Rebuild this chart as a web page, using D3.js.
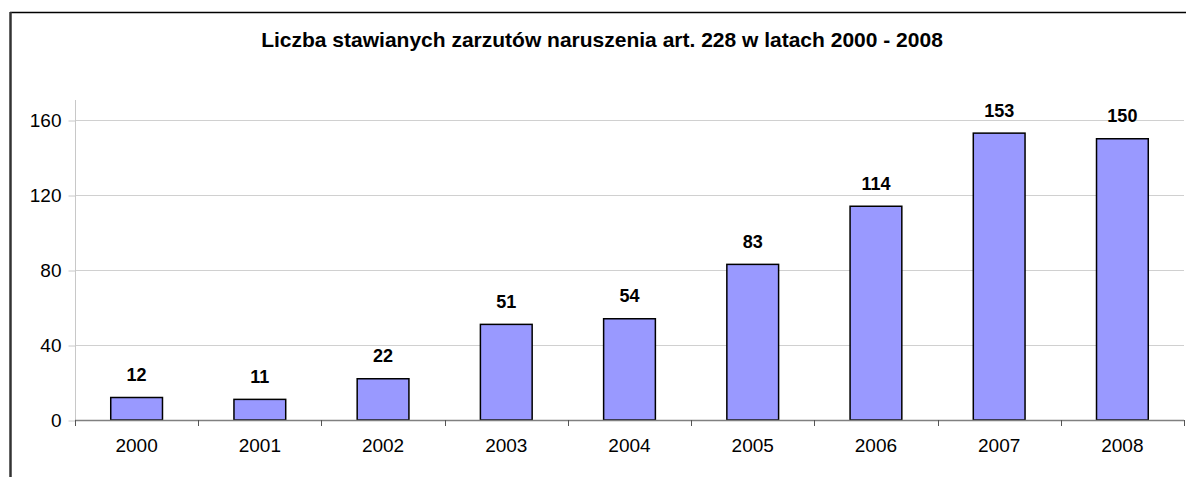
<!DOCTYPE html>
<html>
<head>
<meta charset="utf-8">
<script src="https://cdn.jsdelivr.net/npm/d3@7"></script>
<style>
  body { margin: 0; background: #fff; }
  svg { display: block; font-family: "Liberation Sans", Arial, sans-serif; }
</style>
</head>
<body>
<div id="chart"></div>
<script>
// data
var years = ['2000', '2001', '2002', '2003', '2004', '2005', '2006', '2007', '2008'];
var counts = [12, 11, 22, 51, 54, 83, 114, 153, 150];
var yTicks = [0, 40, 80, 120, 160];
var title = 'Liczba stawianych zarzutów naruszenia art. 228 w latach 2000 - 2008';

var width = 1186, height = 477;
var plotLeft = 75, plotRight = 1184, plotBottom = 420, y160 = 120, plotTop = 100;

var svg = d3.select('#chart').append('svg')
    .attr('width', width)
    .attr('height', height);

// chart frame
svg.append('line')
    .attr('x1', 10).attr('x2', width)
    .attr('y1', 12.5).attr('y2', 12.5)
    .attr('stroke', '#000').attr('stroke-width', 1.5);
svg.append('line')
    .attr('x1', 10.5).attr('x2', 10.5)
    .attr('y1', 12).attr('y2', height)
    .attr('stroke', '#333').attr('stroke-width', 2.5);

// title
svg.append('text')
    .attr('x', 602).attr('y', 47)
    .attr('text-anchor', 'middle')
    .style('font-size', '21px')
    .style('font-weight', 'bold')
    .text(title);

var x = d3.scaleBand()
    .domain(years)
    .range([plotLeft, plotRight])
    .paddingInner(0.58)
    .paddingOuter(0.29);

var y = d3.scaleLinear()
    .domain([0, 160])
    .range([plotBottom, y160]);

// grid lines
svg.append('g')
    .selectAll('line')
    .data(yTicks.filter(d => d > 0))
    .join('line')
    .attr('x1', plotLeft).attr('x2', plotRight)
    .attr('y1', d => Math.round(y(d)) + 0.5)
    .attr('y2', d => Math.round(y(d)) + 0.5)
    .attr('stroke', '#d0d0d0');

// y axis
var yAxis = svg.append('g')
    .attr('transform', 'translate(' + (plotLeft + 0.5) + ',0.5)')
    .call(d3.axisLeft(y).tickValues(yTicks).tickSize(7).tickPadding(7));
yAxis.select('.domain').remove();
yAxis.selectAll('.tick line').attr('stroke', '#c8c8c8');
yAxis.selectAll('.tick text')
    .attr('fill', '#000')
    .style('font-size', '19px')
    .style('font-family', '"Liberation Sans", Arial, sans-serif');
svg.append('line')
    .attr('x1', plotLeft + 0.5).attr('x2', plotLeft + 0.5)
    .attr('y1', plotTop).attr('y2', plotBottom)
    .attr('stroke', '#c8c8c8');

// bars
svg.append('g')
    .selectAll('rect')
    .data(counts)
    .join('rect')
    .attr('x', (d, i) => x(years[i]))
    .attr('y', d => y(d))
    .attr('width', x.bandwidth())
    .attr('height', d => y(0) - y(d))
    .attr('fill', '#9999ff')
    .attr('stroke', '#000')
    .attr('stroke-width', 1.5);

// x axis baseline and ticks
svg.append('line')
    .attr('x1', plotLeft).attr('x2', plotRight)
    .attr('y1', plotBottom + 0.5).attr('y2', plotBottom + 0.5)
    .attr('stroke', '#808080').attr('stroke-width', 1.5);

var step = x.step();
svg.append('g')
    .selectAll('line')
    .data(d3.range(years.length + 1))
    .join('line')
    .attr('x1', i => Math.round(plotLeft + i * step) + 0.5)
    .attr('x2', i => Math.round(plotLeft + i * step) + 0.5)
    .attr('y1', plotBottom).attr('y2', plotBottom + 6)
    .attr('stroke', '#555');

svg.append('g')
    .selectAll('text')
    .data(years)
    .join('text')
    .attr('x', d => x(d) + x.bandwidth() / 2)
    .attr('y', 452)
    .attr('text-anchor', 'middle')
    .style('font-size', '19px')
    .text(d => d);

// value labels
svg.append('g')
    .selectAll('text')
    .data(counts)
    .join('text')
    .attr('x', (d, i) => x(years[i]) + x.bandwidth() / 2)
    .attr('y', d => y(d) - 16.5)
    .attr('text-anchor', 'middle')
    .style('font-size', '18px')
    .style('font-weight', 'bold')
    .text(d => d);
</script>
</body>
</html>
